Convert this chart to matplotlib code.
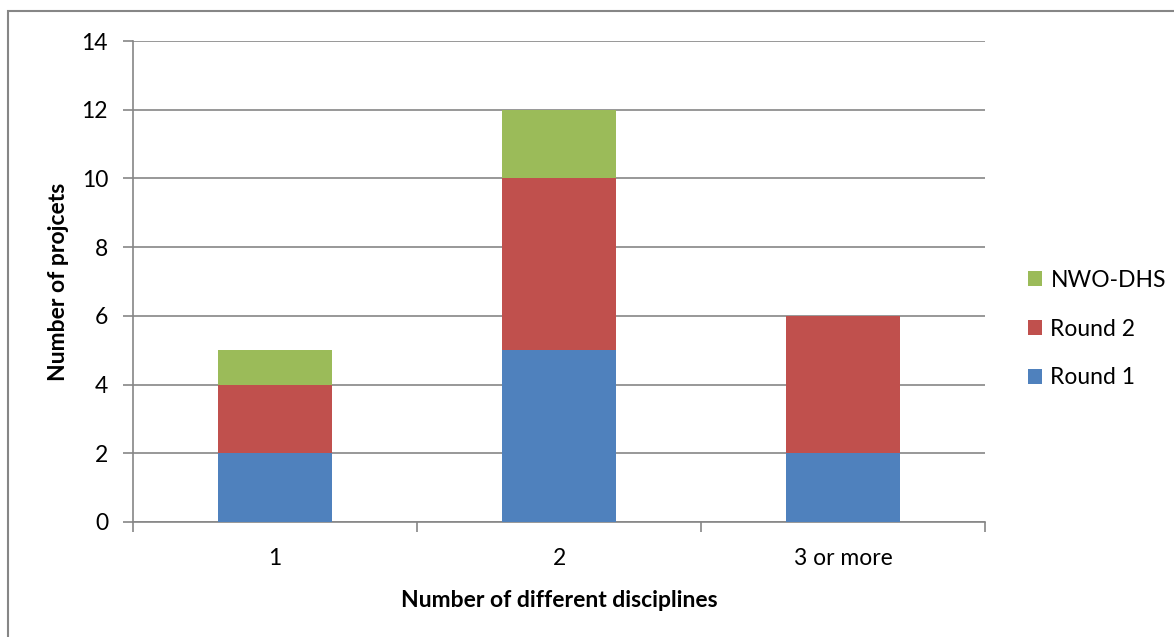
import numpy as np
import matplotlib
matplotlib.use("Agg")
import matplotlib.pyplot as plt
from matplotlib.patches import Rectangle

categories = ["1", "2", "3 or more"]
round1 = [2, 5, 2]
round2 = [2, 5, 4]
nwo_dhs = [1, 2, 0]

plt.rcParams['font.family'] = ['Lato', 'DejaVu Sans']

fig = plt.figure(figsize=(11.74, 6.37), dpi=100)
W, H = 1174, 637
ax = fig.add_axes([133 / W, 1 - 522 / H, (985 - 133) / W, (522 - 41) / H])

# chart frame, running off the right and bottom edge
fig.patches.append(Rectangle((8 / W, -0.05), 1.2, 1 - 11 / H + 0.05,
                             transform=fig.transFigure, fill=False,
                             edgecolor='#868686', linewidth=1.5))

x = np.arange(len(categories))
w = 0.4
b1 = np.array(round1)
b2 = b1 + np.array(round2)
ax.bar(x, round1, w, color='#4F81BD', label='Round 1', zorder=3)
ax.bar(x, round2, w, bottom=b1, color='#C0504D', label='Round 2', zorder=3)
ax.bar(x, nwo_dhs, w, bottom=b2, color='#9BBB59', label='NWO-DHS', zorder=3)

ax.set_xlim(-0.5, 2.5)
ax.set_ylim(0, 14)
ax.set_yticks(range(0, 15, 2))
ax.yaxis.grid(True, color='#868686', linewidth=1.2, zorder=0)
ax.set_xticks(x)
ax.set_xticklabels(categories, fontsize=16.5)
ax.set_xticks([-0.5, 0.5, 1.5, 2.5], minor=True)
ax.tick_params(axis='x', which='major', length=0, pad=18.5)
ax.tick_params(axis='x', which='minor', length=7, color='#868686', width=1.2, direction='out')
ax.tick_params(axis='y', length=7, color='#868686', width=1.2, labelsize=16.5, pad=11)

for s in ['top', 'right']:
    ax.spines[s].set_visible(False)
for s in ['left', 'bottom']:
    ax.spines[s].set_color('#868686')
    ax.spines[s].set_linewidth(1.2)

ax.set_xlabel("Number of different disciplines", fontsize=16.5, fontweight='bold', labelpad=15)
ax.set_ylabel("Number of projcets", fontsize=16.5, fontweight='bold', labelpad=9)

h, l = ax.get_legend_handles_labels()
fig.legend(h[::-1], l[::-1], loc='center left', bbox_to_anchor=(1028 / W, 1 - 329 / H),
           bbox_transform=fig.transFigure, frameon=False, fontsize=16.5,
           borderpad=0, borderaxespad=0, handlelength=0.63, handleheight=0.63,
           labelspacing=1.22, handletextpad=0.35)

fig.savefig("out.png", dpi=100)
